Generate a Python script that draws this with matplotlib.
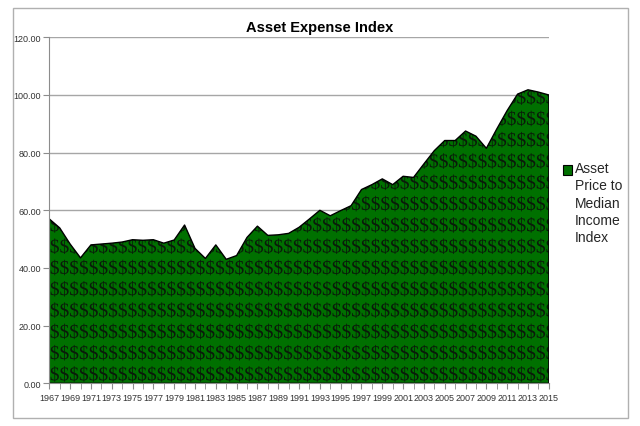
import matplotlib
matplotlib.use('Agg')
import matplotlib.pyplot as plt
from matplotlib.patches import Rectangle, PathPatch
from matplotlib.textpath import TextPath
from matplotlib.font_manager import FontProperties
from matplotlib.transforms import Affine2D
from matplotlib.ticker import FormatStrFormatter, MultipleLocator

plt.rcParams['font.family'] = ['Liberation Sans', 'DejaVu Sans']

# データ
years = list(range(1967, 2016))
index_values = [
    57.0, 53.9, 48.3, 43.5, 48.0, 48.3, 48.6, 49.0, 49.8, 49.6,
    49.8, 48.6, 49.7, 54.9, 46.8, 43.3, 48.0, 43.0, 44.3, 50.6,
    54.5, 51.3, 51.5, 52.0, 54.1, 57.0, 60.0, 58.1, 59.9, 61.6,
    67.2, 68.9, 70.9, 68.9, 71.8, 71.4, 76.1, 80.7, 84.2, 84.2,
    87.5, 85.7, 81.5, 88.2, 94.6, 100.3, 101.8, 101.0, 100.0,
]
series_label = 'Asset\nPrice to\nMedian\nIncome\nIndex'
chart_title = 'Asset Expense Index'

W, H = 640, 427
DPI = 100
fig = plt.figure(figsize=(W / DPI, H / DPI), dpi=DPI)

# 外枠
fig.patches.append(Rectangle((12.5 / W, 1 - 418.5 / H), 615 / W, 410 / H,
                             transform=fig.transFigure, fill=False,
                             edgecolor='#b0b0b0', linewidth=1))

ax_l, ax_r, ax_t, ax_b = 49.3, 548.8, 38.3, 384.3
ax = fig.add_axes([ax_l / W, 1 - ax_b / H, (ax_r - ax_l) / W, (ax_b - ax_t) / H])
ax.set_xlim(1967, 2015)
ax.set_ylim(0, 120)

area = ax.fill_between(years, index_values, 0, facecolor='#007000',
                       edgecolor='none', linewidth=0, zorder=2)

# "$" の模様（塗りつぶし領域でクリップ）
clip = area.get_paths()[0]
font = FontProperties(family='Liberation Serif')
row_path = TextPath((0, 0), '\\$' * 56, size=14, prop=font)
for i in range(17):
    center_px = H - 375 + i * 21.3
    tr = Affine2D().scale(DPI / 72).translate(ax_l + 0.5, center_px - 6.3)
    p = PathPatch(row_path, transform=tr, facecolor='#0a1a0a',
                  edgecolor='none', zorder=3)
    ax.add_artist(p)
    p.set_clip_path(clip, transform=ax.transData)

# 外形線
ax.fill_between(years, index_values, 0, facecolor='none',
                edgecolor='black', linewidth=1, zorder=4)

ax.yaxis.set_major_locator(MultipleLocator(20))
ax.yaxis.set_major_formatter(FormatStrFormatter('%.2f'))
ax.set_xticks(years[::2])
ax.set_xticks(years, minor=True)
ax.grid(axis='y', color='#a6a6a6', linewidth=1, zorder=0)
ax.set_axisbelow(True)

for s in ['top', 'right']:
    ax.spines[s].set_visible(False)
for s in ['left', 'bottom']:
    ax.spines[s].set_color('#8c8c8c')
    ax.spines[s].set_zorder(5)

ax.tick_params(axis='both', which='both', direction='out', color='#8c8c8c',
               labelsize=6.5, labelcolor='#333333')
ax.tick_params(axis='x', which='both', length=4, pad=3)
ax.tick_params(axis='y', length=4, pad=2)

# タイトル
fig.text(320 / W, 1 - 28 / H, chart_title, ha='center', va='center',
         fontsize=10.5, fontweight='bold', color='black')

# 凡例（手動）
fig.patches.append(Rectangle((563 / W, 1 - 176 / H), 9 / W, 10 / H,
                             transform=fig.transFigure, facecolor='#007000',
                             edgecolor='black', linewidth=0.8))
fig.text(575 / W, 1 - 162 / H, series_label, ha='left', va='top',
         fontsize=10, color='#262626', linespacing=1.3)

fig.savefig('out.png', dpi=DPI)
